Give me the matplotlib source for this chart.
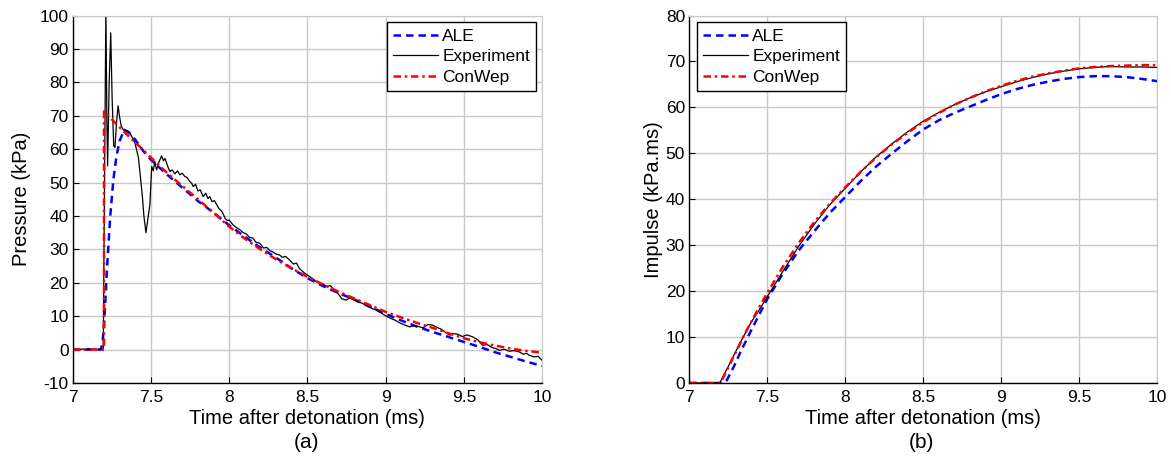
import matplotlib
matplotlib.use("Agg")
import matplotlib.pyplot as plt
import numpy as np

plt.rcParams["font.family"] = ["Liberation Sans", "DejaVu Sans"]
plt.rcParams["axes.unicode_minus"] = False

# ---- pressure (kPa) vs time (ms) ----
t_ale_p = [7.0, 7.18, 7.19, 7.20, 7.22, 7.24, 7.26, 7.28, 7.30, 7.33, 7.36, 7.40, 7.45, 7.5,
           7.6, 7.7, 7.8, 7.9, 8.0, 8.1, 8.2, 8.3, 8.4, 8.5, 8.6, 8.7, 8.8, 8.9, 9.0,
           9.1, 9.2, 9.3, 9.4, 9.5, 9.6, 9.7, 9.8, 9.9, 10.0]
p_ale = [0, 0, 2, 7, 25, 40, 51, 58, 62.5, 65.8, 65, 62.8, 59.5, 56.8,
         52.5, 48.5, 44.5, 41, 37.2, 33.8, 30.5, 27.5, 24.3, 21.4, 19, 16.9, 15, 12.9, 10.7,
         8.7, 6.9, 5.3, 3.8, 2.3, 0.8, -0.8, -2.2, -3.6, -4.9]

t_cw_p = [7.0, 7.2, 7.2001, 7.3, 7.4, 7.5, 7.6, 7.7, 7.8, 7.9, 8.0, 8.1, 8.2, 8.3, 8.4, 8.5,
          8.6, 8.7, 8.8, 8.9, 9.0, 9.1, 9.2, 9.3, 9.4, 9.5, 9.6, 9.7, 9.8, 9.9, 10.0]
p_cw = [0, 0, 71.3, 66.5, 62, 57.5, 53, 49, 45, 41, 36.8, 33.2, 30, 27, 24.3, 21.8,
        19.5, 17.3, 15.3, 13.3, 11.3, 9.6, 8, 6.5, 4.9, 3.4, 2.2, 1.2, 0.3, -0.4, -0.9]

t_exp_p = [7.00, 7.02, 7.04, 7.06, 7.08, 7.10, 7.12, 7.14, 7.16, 7.18, 7.195, 7.205, 7.212,
           7.218, 7.223, 7.233, 7.243, 7.252, 7.262, 7.27, 7.28, 7.29, 7.30, 7.31, 7.32,
           7.335, 7.35, 7.366, 7.38, 7.398, 7.41, 7.42, 7.43, 7.445, 7.455, 7.468, 7.48,
           7.493, 7.50, 7.505, 7.515, 7.525, 7.536, 7.55, 7.568, 7.58, 7.59, 7.60, 7.61,
           7.621, 7.635, 7.653, 7.67, 7.685, 7.70, 7.717, 7.73, 7.749, 7.76, 7.77, 7.785,
           7.80, 7.815, 7.834, 7.85, 7.865, 7.876, 7.89, 7.905, 7.919, 7.935, 7.95, 7.96,
           7.975, 7.99, 8.00, 8.025, 8.05, 8.07, 8.09, 8.11, 8.13, 8.153, 8.17, 8.196,
           8.22, 8.24, 8.26, 8.28, 8.30, 8.323, 8.34, 8.36, 8.387, 8.41, 8.43, 8.45,
           8.472, 8.49, 8.51, 8.535, 8.557, 8.58, 8.60, 8.625, 8.645, 8.663, 8.68, 8.70,
           8.72, 8.749, 8.77, 8.79, 8.82, 8.855, 8.88, 8.91, 8.94, 8.97, 9.004, 9.03,
           9.06, 9.09, 9.12, 9.153, 9.18, 9.21, 9.24, 9.27, 9.301, 9.33, 9.36, 9.38,
           9.41, 9.43, 9.46, 9.49, 9.52, 9.557, 9.59, 9.62, 9.65, 9.68, 9.70, 9.727,
           9.76, 9.79, 9.82, 9.855, 9.88, 9.90, 9.918, 9.95, 9.975, 10.0]
p_exp = [0, 0.2, -0.1, 0.2, 0, 0.3, 0, 0.2, 0, 0.2, 0, 60, 102,
         70, 55, 80, 94.8, 75, 61, 60.5, 68, 73, 69.5, 67, 66,
         65.3, 65.5, 64.8, 63.5, 61.8, 59.5, 57.5, 52.8, 46, 40, 35, 39,
         43.3, 50, 54.8, 53.5, 56.3, 53.8, 56, 58, 56.5, 57.2, 55.8, 54.5,
         53.3, 53.8, 52.6, 53.5, 52.3, 52.8, 51.8, 51.5, 50.3, 49.8, 48.8, 49.5,
         47.5, 47.8, 45.8, 46.8, 45.2, 45.8, 44.3, 44.6, 43.5, 42.2, 41.5, 40.8,
         39.2, 38.6, 38.8, 37.3, 36.4, 35.8, 35, 34.6, 33.6, 33.3, 32.2, 31.8,
         30.4, 30.6, 29.6, 29.2, 28.6, 28.3, 27.6, 27.9, 26.8, 25.6, 25.9, 24.2,
         23.3, 22.6, 22.0, 21.2, 20.3, 19.9, 19.6, 18.8, 19.2, 18.3, 17.6, 16.5,
         15.2, 14.8, 15.5, 15.0, 14.3, 13.8, 13.0, 12.4, 11.8, 11.0, 10.0, 9.4,
         8.8, 8.0, 7.4, 6.8, 7.1, 6.9, 6.5, 7.5, 7.3, 6.6, 6.0, 5.2,
         4.3, 4.8, 4.6, 3.9, 4.4, 3.8, 2.9, 1.3, 1.5, 0.6, 0.4, -0.2,
         0.1, -0.5, -0.3, -0.7, -1.4, -1.1, -1.7, -2.2, -2.0, -3.2]

# ---- impulse (kPa.ms) vs time (ms) ----
t_ale_i = [7.0, 7.22, 7.24, 7.27, 7.3, 7.33, 7.36, 7.4, 7.45, 7.5, 7.6, 7.7, 7.8, 7.9, 8.0,
           8.1, 8.2, 8.3, 8.4, 8.5, 8.6, 8.7, 8.8, 8.9, 9.0, 9.1, 9.2, 9.3, 9.4, 9.5,
           9.6, 9.7, 9.8, 9.9, 10.0]
i_ale = [0, 0, 0.6, 2.5, 4.6, 6.9, 8.9, 11.7, 15, 18.3, 23.8, 28.8, 33, 37, 40.5,
         44, 47.2, 50, 52.7, 55.2, 57.2, 58.8, 60.2, 61.6, 62.9, 64, 64.9, 65.6, 66.2, 66.6,
         66.8, 66.8, 66.6, 66.2, 65.7]

t_cw_i = [7.0, 7.2, 7.25, 7.3, 7.35, 7.4, 7.45, 7.5, 7.6, 7.7, 7.8, 7.9, 8.0, 8.1, 8.2,
          8.3, 8.4, 8.5, 8.6, 8.7, 8.8, 8.9, 9.0, 9.1, 9.2, 9.3, 9.4, 9.5, 9.6, 9.7,
          9.8, 9.9, 10.0]
i_cw = [0, 0, 3.4, 6.8, 10.3, 13.5, 16.6, 19.6, 25.3, 30.4, 35, 39, 42.6, 46, 49.2,
        52, 54.5, 56.8, 58.8, 60.6, 62.1, 63.5, 64.7, 65.8, 66.7, 67.4, 68, 68.5, 68.8, 69.0,
        69.1, 69.2, 69.2]

t_exp_i = [7.0, 7.195, 7.25, 7.3, 7.35, 7.4, 7.45, 7.5, 7.6, 7.7, 7.8, 7.9, 8.0, 8.1, 8.2,
           8.3, 8.4, 8.5, 8.6, 8.7, 8.8, 8.9, 9.0, 9.1, 9.2, 9.3, 9.4, 9.5, 9.6, 9.7,
           9.8, 9.9, 10.0]
i_exp = [0, 0, 3.6, 7, 10.3, 13.4, 16.0, 18.8, 24.3, 29.7, 34.5, 38.8, 42.4, 46, 49.3,
         52.1, 54.7, 57, 58.9, 60.6, 62.1, 63.4, 64.5, 65.6, 66.5, 67.3, 67.9, 68.4, 68.7, 68.9,
         68.8, 68.8, 68.7]

xticks = np.arange(7, 10.01, 0.5)
xtick_labels = ["7", "7.5", "8", "8.5", "9", "9.5", "10"]

fig = plt.figure(figsize=(11.71, 4.63), dpi=100)
ax1 = fig.add_axes([0.0621, 0.1728, 0.4008, 0.7937])
ax2 = fig.add_axes([0.5886, 0.1728, 0.3998, 0.7937])

grid_c = "#c8c8c8"


def style(ax):
    ax.set_xlim(7, 10)
    ax.set_xticks(xticks)
    ax.set_xticklabels(xtick_labels)
    ax.grid(True, color=grid_c, linewidth=1.0)
    ax.set_axisbelow(True)
    for s in ["top", "right"]:
        ax.spines[s].set_color(grid_c)
    for s in ["left", "bottom"]:
        ax.spines[s].set_color("black")
        ax.spines[s].set_linewidth(1.0)
    ax.tick_params(direction="in", length=4, labelsize=12.5, pad=3)
    ax.tick_params(axis="x", pad=5)
    ax.set_xlabel("Time after detonation (ms)", fontsize=14.5, labelpad=3)


ax1.plot(t_ale_p, p_ale, "--", color="blue", lw=1.8, label="ALE", dashes=(3, 2))
ax1.plot(t_exp_p, p_exp, "-", color="black", lw=0.9, label="Experiment")
ax1.plot(t_cw_p, p_cw, "-.", color="red", lw=1.8, label="ConWep", dashes=(3, 1.5, 1, 1.5))
style(ax1)
ax1.set_ylim(-10, 100)
ax1.set_yticks(np.arange(-10, 101, 10))
ax1.set_ylabel("Pressure (kPa)", fontsize=14.5, labelpad=6)

ax2.plot(t_ale_i, i_ale, "--", color="blue", lw=1.8, label="ALE", dashes=(3, 2))
ax2.plot(t_exp_i, i_exp, "-", color="black", lw=0.9, label="Experiment")
ax2.plot(t_cw_i, i_cw, "-.", color="red", lw=1.8, label="ConWep", dashes=(3, 1.5, 1, 1.5))
style(ax2)
ax2.set_ylim(0, 80)
ax2.set_yticks(np.arange(0, 81, 10))
ax2.set_ylabel("Impulse (kPa.ms)", fontsize=14.5, labelpad=2)

leg_kw = dict(fontsize=12.5, fancybox=False, edgecolor="black", framealpha=1,
              handlelength=2.6, handletextpad=0.25, labelspacing=0.32,
              borderpad=0.35, borderaxespad=0)
leg1 = ax1.legend(loc="upper right", bbox_to_anchor=(0.987, 0.981), **leg_kw)
leg2 = ax2.legend(loc="upper left", bbox_to_anchor=(0.016, 0.981), **leg_kw)
for lg in (leg1, leg2):
    lg.get_frame().set_linewidth(1.0)

fig.text(0.262, 0.045, "(a)", fontsize=15, ha="center", va="center")
fig.text(0.787, 0.045, "(b)", fontsize=15, ha="center", va="center")

fig.savefig("out.png", dpi=100)
